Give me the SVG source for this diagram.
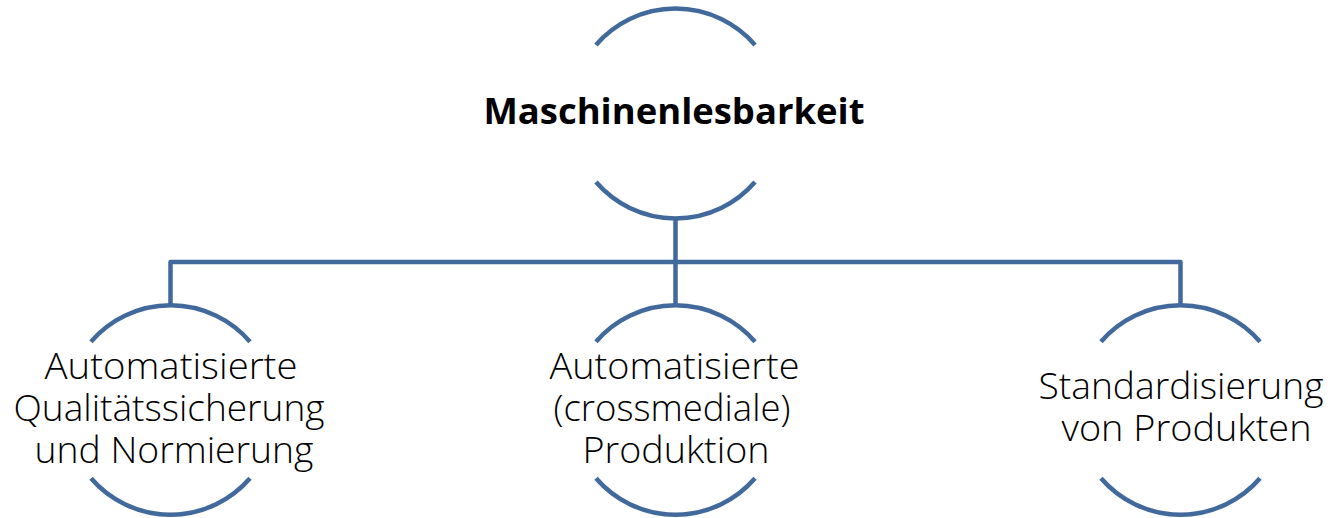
<svg xmlns="http://www.w3.org/2000/svg" width="1341" height="518" viewBox="0 0 1341 518">
<style>
.arc{fill:none;stroke:#41699B;stroke-width:4.5;stroke-linecap:butt}
.conn{fill:none;stroke:#41699B;stroke-width:4.5;stroke-linejoin:round}
.t{font-family:"Open Sans","Noto Sans",sans-serif;font-size:37px;font-weight:300;fill:#000;text-anchor:middle}
.h{font-family:"Open Sans","Noto Sans",sans-serif;font-size:36.5px;font-weight:700;fill:#000;text-anchor:middle}
</style>
<rect width="1341" height="518" fill="#fff"/>
<g id="connectors">
<path class="conn" d="M675.5 218.5 V262 M170.5 305 V262 H1180.5 V305 M675.5 262 V305"/>
</g>
<g id="node-top">
<path class="arc" d="M596 45 A105 105 0 0 1 755 45"/>
<path class="arc" d="M596 182 A105 105 0 0 0 755 182"/>
<text class="h" x="674" y="123.5" textLength="381" lengthAdjust="spacingAndGlyphs">Maschinenlesbarkeit</text>
</g>
<g id="node-left">
<path class="arc" d="M91 341.7 A105 105 0 0 1 250 341.7"/>
<path class="arc" d="M91 478.3 A105 105 0 0 0 250 478.3"/>
<text class="t" x="171" y="379" textLength="253" lengthAdjust="spacingAndGlyphs">Automatisierte</text>
<text class="t" x="169" y="421" textLength="311" lengthAdjust="spacingAndGlyphs">Qualitätssicherung</text>
<text class="t" x="174" y="463" textLength="279" lengthAdjust="spacingAndGlyphs">und Normierung</text>
</g>
<g id="node-middle">
<path class="arc" d="M596 341.7 A105 105 0 0 1 755 341.7"/>
<path class="arc" d="M596 478.3 A105 105 0 0 0 755 478.3"/>
<text class="t" x="674.5" y="379" textLength="250" lengthAdjust="spacingAndGlyphs">Automatisierte</text>
<text class="t" x="672" y="421" textLength="237" lengthAdjust="spacingAndGlyphs">(crossmediale)</text>
<text class="t" x="676" y="463" textLength="187" lengthAdjust="spacingAndGlyphs">Produktion</text>
</g>
<g id="node-right">
<path class="arc" d="M1101 341.7 A105 105 0 0 1 1260 341.7"/>
<path class="arc" d="M1101 478.3 A105 105 0 0 0 1260 478.3"/>
<text class="t" x="1181" y="399" textLength="285" lengthAdjust="spacingAndGlyphs">Standardisierung</text>
<text class="t" x="1186.5" y="441" textLength="250" lengthAdjust="spacingAndGlyphs">von Produkten</text>
</g>
</svg>
